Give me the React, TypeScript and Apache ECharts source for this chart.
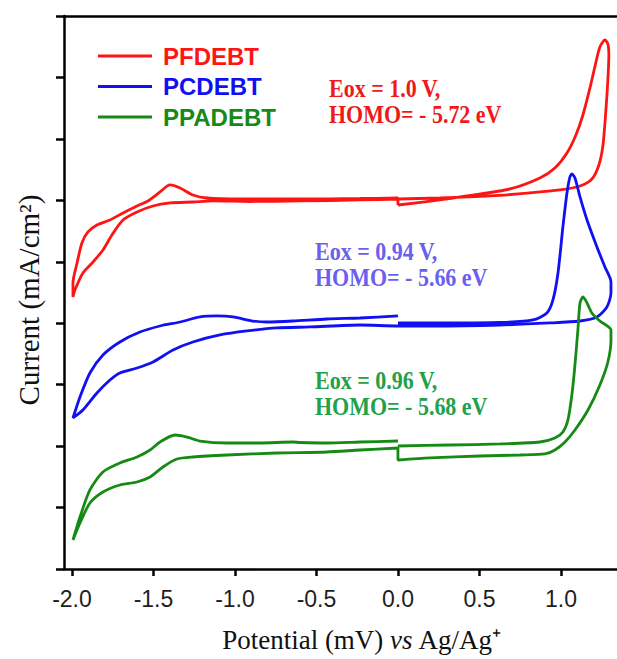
import React, { useEffect, useRef } from "react";
import * as echarts from "echarts";

// Potential (V) tick values shown on the x axis
const X_TICKS = [-2.0, -1.5, -1.0, -0.5, 0.0, 0.5, 1.0];

const SERIES_NAMES = ["PFDEBT", "PCDEBT", "PPADEBT"];
const LINE_COLORS = ["#ff1414", "#1010f2", "#158a15"];
const NOTE_COLORS = ["#ee1a1a", "#6a60ee", "#22a04a"];

// [potential (V), current (arbitrary offset units)]
const PFDEBT: number[][] = [
  [0, 5.924], [0.258, 6.006], [0.423, 6.071], [0.687, 6.185], [0.871, 6.364], [0.963, 6.527],
  [1.037, 6.771], [1.092, 7.064], [1.135, 7.389], [1.178, 7.829], [1.215, 8.252], [1.239, 8.496],
  [1.27, 8.61], [1.288, 8.545], [1.294, 8.366], [1.288, 7.959], [1.276, 7.471], [1.258, 6.901],
  [1.233, 6.576], [1.19, 6.348], [1.117, 6.234], [0.994, 6.169], [0.81, 6.12], [0.564, 6.071],
  [0.258, 6.038], [0, 6.022], [-0.233, 6.006], [-0.601, 5.99], [-0.908, 5.981], [-1.135, 5.99],
  [-1.258, 5.973], [-1.399, 5.957], [-1.503, 5.908], [-1.601, 5.811], [-1.687, 5.68], [-1.755, 5.436],
  [-1.81, 5.192], [-1.871, 4.997], [-1.933, 4.818], [-1.982, 4.541], [-1.994, 4.427], [-1.994, 4.655],
  [-1.969, 4.98], [-1.939, 5.306], [-1.902, 5.485], [-1.847, 5.599], [-1.767, 5.68], [-1.687, 5.794],
  [-1.601, 5.908], [-1.534, 5.99], [-1.46, 6.136], [-1.399, 6.25], [-1.337, 6.201], [-1.258, 6.087],
  [-1.172, 6.038], [-0.969, 6.022], [-0.601, 6.022], [-0.233, 6.03], [0, 6.038], [0, 5.924],
];

const PCDEBT: number[][] = [
  [0, 4.004], [0.319, 4.004], [0.626, 4.012], [0.828, 4.053], [0.914, 4.167], [0.951, 4.378],
  [0.982, 4.818], [1.012, 5.566], [1.037, 6.12], [1.055, 6.38], [1.067, 6.429], [1.086, 6.364],
  [1.117, 6.055], [1.16, 5.68], [1.221, 5.241], [1.27, 4.915], [1.307, 4.671], [1.307, 4.492],
  [1.282, 4.264], [1.221, 4.102], [1.117, 4.036], [0.933, 4.004], [0.626, 3.971], [0.215, 3.955],
  [0, 3.955], [-0.233, 3.971], [-0.54, 3.939], [-0.742, 3.923], [-0.926, 3.874], [-1.092, 3.809],
  [-1.258, 3.695], [-1.38, 3.564], [-1.503, 3.369], [-1.601, 3.271], [-1.706, 3.19], [-1.767, 3.076],
  [-1.847, 2.865], [-1.933, 2.588], [-1.994, 2.458], [-1.982, 2.555], [-1.951, 2.799], [-1.89, 3.19],
  [-1.81, 3.483], [-1.706, 3.695], [-1.583, 3.857], [-1.46, 3.955], [-1.337, 4.02], [-1.215, 4.102],
  [-1.11, 4.118], [-1.012, 4.102], [-0.89, 4.036], [-0.804, 4.02], [-0.644, 4.036], [-0.436, 4.069],
  [-0.233, 4.085], [0, 4.118],
];

const PPADEBT: number[][] = [
  [0, 2.083], [-0.233, 2.067], [-0.436, 2.051], [-0.601, 2.059], [-0.644, 2.067], [-0.847, 2.051],
  [-1.049, 2.051], [-1.215, 2.083], [-1.294, 2.148], [-1.368, 2.181], [-1.46, 2.067], [-1.521, 1.937],
  [-1.601, 1.823], [-1.706, 1.725], [-1.81, 1.579], [-1.89, 1.286], [-1.951, 0.846], [-1.994, 0.472],
  [-1.951, 0.749], [-1.89, 1.074], [-1.81, 1.253], [-1.706, 1.367], [-1.601, 1.416], [-1.521, 1.497],
  [-1.442, 1.66], [-1.356, 1.79], [-1.258, 1.823], [-1.049, 1.855], [-0.742, 1.888], [-0.436, 1.904],
  [-0.233, 1.937], [0, 1.969], [0, 1.774], [0.196, 1.807], [0.503, 1.839], [0.748, 1.855],
  [0.902, 1.872], [0.963, 1.937], [1.025, 2.067], [1.086, 2.262], [1.166, 2.588], [1.239, 2.995],
  [1.288, 3.369], [1.307, 3.727], [1.307, 3.89], [1.239, 4.036], [1.19, 4.167], [1.16, 4.329],
  [1.135, 4.427], [1.117, 4.329], [1.104, 3.89], [1.086, 3.32], [1.067, 2.832], [1.043, 2.425],
  [1.012, 2.23], [0.963, 2.132], [0.871, 2.067], [0.626, 2.035], [0.319, 2.018], [0, 2.002],
];

const NOTES = [
  ["Eox = 1.0 V,", "HOMO= - 5.72 eV"],
  ["Eox = 0.94 V,", "HOMO= - 5.66 eV"],
  ["Eox = 0.96 V,", "HOMO= - 5.68 eV"],
];

const X_TITLE = ["Potential (mV) ", "vs", " Ag/Ag⁺"];
const Y_TITLE = "Current (mA/cm²)";

export default function App() {
  const ref = useRef<HTMLDivElement>(null);
  useEffect(() => {
    document.body.style.margin = "0";
    const chart = echarts.init(ref.current!, null, { renderer: "svg" });
    const data = [PFDEBT, PCDEBT, PPADEBT];
    const notePos = [
      { x: 329, y: 76 },
      { x: 315, y: 239 },
      { x: 315, y: 368 },
    ];
    chart.setOption({
      animation: false,
      backgroundColor: "#ffffff",
      grid: { left: 64, top: 16, right: 0, bottom: 90 },
      legend: {
        orient: "vertical",
        left: 98,
        top: 44,
        padding: 0,
        icon: "rect",
        itemWidth: 54,
        itemHeight: 3,
        itemGap: 6.5,
        data: SERIES_NAMES.map((n, i) => ({ name: n, textStyle: { color: LINE_COLORS[i] } })),
        textStyle: {
          fontSize: 24,
          fontWeight: "bold",
          fontFamily: "Liberation Sans",
          padding: [0, 0, 0, 6],
        },
      },
      xAxis: [
        {
          type: "value",
          min: -2.049,
          max: 1.344,
          position: "bottom",
          axisLine: { show: true, onZero: false, lineStyle: { color: "#000", width: 2.5 } },
          axisTick: { show: true, length: 7, customValues: X_TICKS, lineStyle: { color: "#000", width: 2.5 } },
          axisLabel: {
            show: true,
            customValues: X_TICKS,
            formatter: (v: number) => v.toFixed(1),
            fontSize: 23,
            fontFamily: "Liberation Sans",
            color: "#1e1e1e",
            margin: 18,
          },
          splitLine: { show: false },
        },
        {
          type: "value",
          min: -2.049,
          max: 1.344,
          position: "top",
          axisLine: { show: true, onZero: false, lineStyle: { color: "#000", width: 2.5 } },
          axisTick: { show: false },
          axisLabel: { show: false },
          splitLine: { show: false },
        },
      ],
      yAxis: {
        type: "value",
        min: 0,
        max: 9,
        interval: 1,
        axisLine: { show: true, onZero: false, lineStyle: { color: "#000", width: 2.5 } },
        axisTick: { show: true, length: 8, lineStyle: { color: "#000", width: 2.5 } },
        axisLabel: { show: false },
        splitLine: { show: false },
      },
      series: SERIES_NAMES.map((n, i) => ({
        name: n,
        type: "line",
        xAxisIndex: 0,
        data: data[i],
        showSymbol: false,
        symbol: "none",
        smooth: 0.25,
        lineStyle: { color: LINE_COLORS[i], width: 2.8 },
        itemStyle: { color: LINE_COLORS[i] },
      })),
      graphic: [
        ...NOTES.map((lines, i) => ({
          type: "text",
          x: notePos[i].x,
          y: notePos[i].y,
          scaleX: 0.88,
          style: {
            text: lines.join("\n"),
            font: 'bold 25px "Liberation Serif"',
            fill: NOTE_COLORS[i],
            lineHeight: 25.5,
            verticalAlign: "top",
            align: "left",
          },
        })),
        {
          type: "text",
          x: 29,
          y: 300,
          rotation: Math.PI / 2,
          style: {
            text: Y_TITLE,
            font: '29px "Liberation Serif"',
            fill: "#111",
            align: "center",
            verticalAlign: "middle",
          },
        },
        {
          type: "text",
          x: 362,
          y: 640,
          style: {
            text: `{a|${X_TITLE[0]}}{i|${X_TITLE[1]}}{a|${X_TITLE[2]}}`,
            align: "center",
            verticalAlign: "middle",
            rich: {
              a: { fontSize: 27, fontFamily: "Liberation Serif", fill: "#111" },
              i: { fontSize: 27, fontFamily: "Liberation Serif", fontStyle: "italic", fill: "#111" },
            },
          },
        },
      ],
    });
    return () => chart.dispose();
  }, []);
  return <div ref={ref} style={{ width: 617, height: 659, background: "#fff" }} />;
}
